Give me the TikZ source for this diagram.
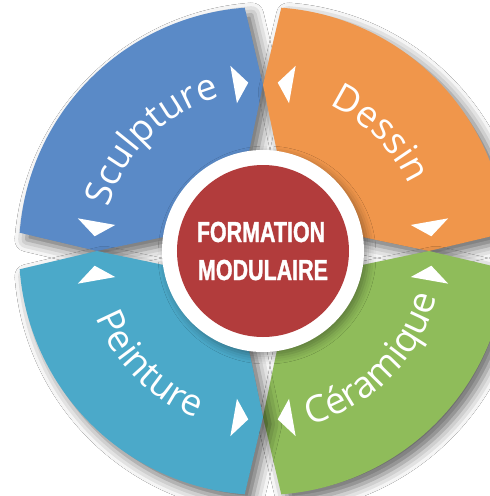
\documentclass[tikz,border=0pt]{standalone}
\usepackage{fontspec}
\usetikzlibrary{decorations.text,shadows.blur}
\newfontfamily\curvefam{Open Sans}
\newfontface\condface[FakeStretch=0.74, FakeBold=1.2]{Liberation Sans Bold}
\newcommand\curvefont{\curvefam\fontsize{37pt}{37pt}\selectfont}
\definecolor{cblue}{HTML}{5A8AC7}
\definecolor{corange}{HTML}{F0964B}
\definecolor{cteal}{HTML}{4BA9C9}
\definecolor{cgreen}{HTML}{8FBC5A}
\definecolor{cred}{HTML}{B23C3C}
\begin{document}
\begin{tikzpicture}[x=1pt,y=1pt,
  sectorshade/.style={blur shadow={shadow xshift=7pt, shadow yshift=-7pt, shadow blur radius=12pt, shadow opacity=60}},
  arrowtri/.style={fill=white},
  curvetext/.style={decorate, decoration={text along path, text align=center, text color=white, text={#1}}},
  centertext/.style={text=white, anchor=base, inner sep=0pt, font=\condface\fontsize{29pt}{29pt}\selectfont}]
\useasboundingbox (-263,-245) rectangle (227,251);
\fill[white] (-263,-245) rectangle (227,251);
\clip (-263,-245) rectangle (227,251);
% sectors
\foreach \r/\c in {0/cblue,-90/corange,-180/cgreen,90/cteal}{
  \path[sectorshade, fill=\c] ({\r+102.7}:82pt) -- ({\r+90}:166pt) -- ({\r+94.3}:244pt)
    arc[start angle=\r+94.3, end angle=\r+175.7, radius=244pt]
    -- ({\r+180}:166pt) -- ({\r+167.3}:82pt) -- ({\r+135}:25pt) -- cycle;
}
% small triangles
\foreach \r in {0,-90,-180,90}{
  \fill[arrowtri] ({\r+100}:150pt) -- ({\r+100}:188pt) -- ({\r+95}:169pt) -- cycle;
  \fill[arrowtri] ({\r+170}:150pt) -- ({\r+170}:188pt) -- ({\r+175}:169pt) -- cycle;
}
% centre
\node[circle, fill=white, minimum size=202pt, inner sep=0pt, blur shadow={shadow xshift=4pt, shadow yshift=-4pt, shadow blur radius=8pt, shadow opacity=35}] (ring) at (0,0) {};
\node[circle, fill=cred, minimum size=172pt, inner sep=0pt] (core) at (0,0) {};
\node[centertext] (t1) at (-2,9) {FORMATION};
\node[centertext] (t2) at (0,-29) {MODULAIRE};
% curved labels
\path[curvetext={|\curvefont|Sculpture}] (180:160pt) arc[start angle=180, end angle=90, radius=160pt];
\path[curvetext={|\curvefont|Dessin}] (90:160pt) arc[start angle=90, end angle=0, radius=160pt];
\path[curvetext={|\curvefont|Peinture}] (180:180pt) arc[start angle=180, end angle=270, radius=180pt];
\path[curvetext={|\curvefont|Céramique}] (270:180pt) arc[start angle=270, end angle=360, radius=180pt];
\end{tikzpicture}
\end{document}
